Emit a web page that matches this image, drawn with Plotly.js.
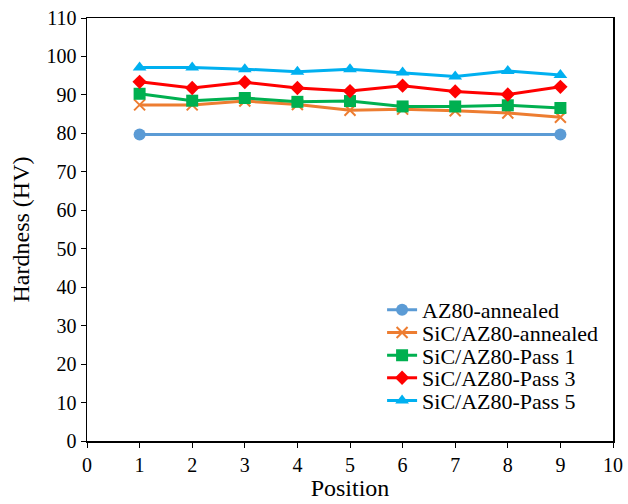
<!DOCTYPE html>
<html><head><meta charset="utf-8">
<script src="https://cdn.plot.ly/plotly-3.0.1.min.js"></script>
<style>html,body{margin:0;padding:0;background:#fff}#chart{width:628px;height:504px}</style>
</head><body><div id="chart"></div>
<script>
const positions = [1,2,3,4,5,6,7,8,9];
const az80Positions = [1,9];
const az80Annealed = [79.7,79.7];
const sicAnnealed = [87.4,87.4,88.4,87.5,86.0,86.3,85.9,85.3,84.2];
const pass1 = [90.3,88.5,89.2,88.2,88.4,87.0,87.0,87.3,86.6];
const pass3 = [93.4,91.8,93.3,91.8,91.0,92.4,90.9,90.1,92.1];
const pass5 = [97.1,97.1,96.7,96.0,96.7,95.8,94.8,96.2,95.2];
const seriesNames = ["AZ80-annealed","SiC/AZ80-annealed","SiC/AZ80-Pass 1","SiC/AZ80-Pass 3","SiC/AZ80-Pass 5"];
const seriesColors = ["#5B9BD5","#ED7D31","#00B050","#FF0000","#00B0F0"];
const seriesSymbols = ["circle","x-thin-open","square","diamond","triangle-up"];
const seriesSizes = [12,11,12,11,12];
const allX = [az80Positions, positions, positions, positions, positions];
const allValues = [az80Annealed, sicAnnealed, pass1, pass3, pass5];
const legendIds = ["legend","legend2","legend3","legend4","legend5"];
const legendY = [0.310, 0.256, 0.202, 0.149, 0.095];

const traces = allValues.map((v,i)=>({
  x: allX[i], y: v, name: seriesNames[i], type: "scatter", mode: "lines+markers",
  legend: legendIds[i],
  line: {color: seriesColors[i], width: 3},
  marker: {symbol: seriesSymbols[i], size: seriesSizes[i], color: seriesColors[i],
           line: {color: seriesColors[i], width: i===1 ? 2 : 0}}
}));

const layout = {
  width: 628, height: 504,
  margin: {l: 87, r: 15, t: 18, b: 63},
  paper_bgcolor: "#fff", plot_bgcolor: "#fff",
  font: {family: "Liberation Serif, Times New Roman, serif", size: 20, color: "#000"},
  showlegend: true,
  xaxis: {range: [0,10], dtick: 1, tick0: 0, showgrid: false, zeroline: false,
          showline: true, linecolor: "#000", linewidth: 1.5, mirror: true,
          ticks: "outside", ticklen: 5, tickcolor: "#000",
          title: {text: "Position", font: {size: 24}, standoff: 4}},
  yaxis: {range: [0,110], dtick: 10, tick0: 0, showgrid: false, zeroline: false,
          showline: true, linecolor: "#000", linewidth: 1.5, mirror: true,
          ticks: "outside", ticklen: 5, tickcolor: "#000",
          title: {text: "Hardness (HV)", font: {size: 24}, standoff: 10}}
};
legendIds.forEach((id,i)=>{
  layout[id] = {x: 0.561, y: legendY[i], xanchor: "left", yanchor: "middle",
                bgcolor: "rgba(0,0,0,0)", font: {size: 22}, borderwidth: 0};
});
Plotly.newPlot("chart", traces, layout, {displayModeBar: false, staticPlot: true});
</script></body></html>
